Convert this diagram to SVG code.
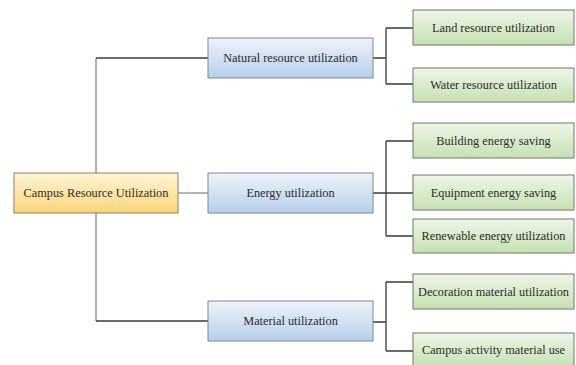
<svg xmlns="http://www.w3.org/2000/svg" width="576" height="365" viewBox="0 0 576 365">
<defs>
<linearGradient id="gY" x1="0" y1="0" x2="0" y2="1"><stop offset="0" stop-color="#fff4d6"/><stop offset="1" stop-color="#f9d67a"/></linearGradient>
<linearGradient id="gB" x1="0" y1="0" x2="0" y2="1"><stop offset="0" stop-color="#eef3fa"/><stop offset="1" stop-color="#b7cfea"/></linearGradient>
<linearGradient id="gG" x1="0" y1="0" x2="0" y2="1"><stop offset="0" stop-color="#eef6e8"/><stop offset="1" stop-color="#c6e0b2"/></linearGradient>
<style>
.t{font-family:"Liberation Serif","DejaVu Serif",serif;font-size:12.3px;fill:#2b2b2b;text-anchor:middle;dominant-baseline:central}
.r{fill:url(#gY);stroke:#8f8060;stroke-width:1}
.b{fill:url(#gB);stroke:#7f8790;stroke-width:1}
.g{fill:url(#gG);stroke:#6e7a68;stroke-width:1}
.c{fill:none;stroke:#3a3a3a;stroke-width:1.3}
.c2{fill:none;stroke:#8a8a8a;stroke-width:1.3}
</style>
</defs>
<rect width="576" height="365" fill="#ffffff"/>
<g id="connectors">
<path class="c2" d="M96,173 V58"/>
<path class="c" d="M96,58 H208"/>
<path class="c2" d="M96,213 V321"/>
<path class="c" d="M96,321 H208"/>
<path class="c2" d="M178,193 H208"/>
<path class="c" d="M373,58 H386 M386,28 V84 M386,28 H413 M386,84 H413"/>
<path class="c" d="M373,193 H413 M386,141 V236 M386,141 H413 M386,236 H413"/>
<path class="c" d="M373,322 H386 M386,282 V351 M386,282 H413 M386,351 H413"/>
</g>
<g id="root"><rect class="r" x="14" y="173" width="164" height="40"/><text class="t" x="96" y="193">Campus Resource Utilization</text></g>
<g id="natural"><rect class="b" x="208" y="38" width="165" height="40"/><text class="t" x="290.5" y="58">Natural resource utilization</text></g>
<g id="energy"><rect class="b" x="208" y="173" width="165" height="40"/><text class="t" x="290.5" y="193">Energy utilization</text></g>
<g id="material"><rect class="b" x="208" y="301" width="165" height="40"/><text class="t" x="290.5" y="321">Material utilization</text></g>
<g id="land"><rect class="g" x="413" y="10" width="161" height="35"/><text class="t" x="493.5" y="27.5">Land resource utilization</text></g>
<g id="water"><rect class="g" x="413" y="68" width="161" height="34"/><text class="t" x="493.5" y="85">Water resource utilization</text></g>
<g id="building"><rect class="g" x="413" y="123" width="161" height="35"/><text class="t" x="493.5" y="140.5">Building energy saving</text></g>
<g id="equipment"><rect class="g" x="413" y="175" width="161" height="35"/><text class="t" x="493.5" y="192.5">Equipment energy saving</text></g>
<g id="renewable"><rect class="g" x="413" y="219" width="161" height="34"/><text class="t" x="493.5" y="236">Renewable energy utilization</text></g>
<g id="decoration"><rect class="g" x="413" y="274" width="161" height="35"/><text class="t" x="493.5" y="291.5">Decoration material utilization</text></g>
<g id="activity"><rect class="g" x="413" y="333" width="161" height="34"/><text class="t" x="493.5" y="350">Campus activity material use</text></g>
</svg>
